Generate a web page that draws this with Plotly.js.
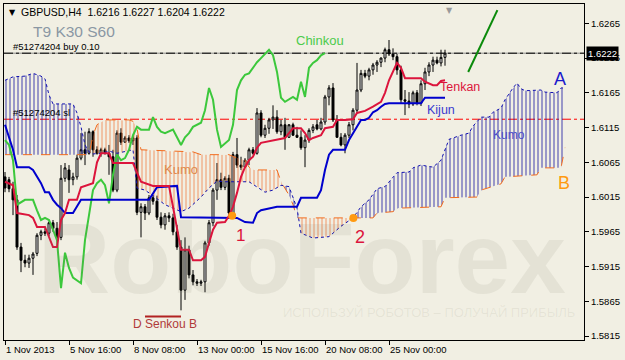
<!DOCTYPE html>
<html><head><meta charset="utf-8">
<script src="https://cdn.plot.ly/plotly-3.0.1.min.js"></script>
<style>html,body{margin:0;padding:0;background:#F1EFE3;} #chart{width:625px;height:360px;}</style>
</head><body><div id="chart"></div>
<script>
// ---- axis labels ----
const tickIdx = [0, 16, 32, 48, 64, 80, 96];
const tickLabels = ["1 Nov 2013", "5 Nov 16:00", "8 Nov 08:00", "13 Nov 00:00", "15 Nov 16:00", "20 Nov 08:00", "25 Nov 00:00"];
const priceTicks = [1.5815, 1.5865, 1.5915, 1.5965, 1.6015, 1.6065, 1.6115, 1.6165, 1.6215, 1.6265];

// ---- H4 candles (bar index 0 = 1 Nov 2013 00:00) ----
const barOpen = [1.6044,1.6040,1.6027,1.6011,1.5943,1.5924,1.5920,1.5927,1.5934,1.5960,
1.5965,1.5963,1.5978,1.5970,1.5957,1.6042,1.6054,1.6040,1.6044,1.6071,
1.6083,1.6078,1.6109,1.6083,1.6078,1.6083,1.6078,1.6073,1.6025,1.6107,
1.6094,1.6100,1.6096,1.6100,1.5993,1.6001,1.5992,1.6014,1.6009,1.5986,
1.5975,1.5988,1.5985,1.5965,1.5943,1.5881,1.5939,1.5903,1.5893,1.5891,
1.5893,1.5949,1.5978,1.6025,1.6040,1.6029,1.6042,1.5992,1.6076,1.6061,
1.6058,1.6068,1.6083,1.6078,1.6136,1.6104,1.6114,1.6126,1.6130,1.6109,
1.6119,1.6101,1.6119,1.6104,1.6101,1.6086,1.6097,1.6111,1.6119,1.6113,
1.6123,1.6159,1.6172,1.6126,1.6101,1.6090,1.6104,1.6119,1.6140,1.6169,
1.6193,1.6189,1.6198,1.6205,1.6209,1.6215,1.6227,1.6221,1.6217,1.6198,
1.6155,1.6153,1.6149,1.6165,1.6150,1.6178,1.6195,1.6205,1.6212,1.6208,1.6216];
const barHigh = [1.6051,1.6044,1.6037,1.6018,1.5949,1.5932,1.5932,1.5936,1.5963,1.5968,
1.5970,1.5980,1.5982,1.5979,1.6061,1.6064,1.6061,1.6050,1.6076,1.6107,
1.6109,1.6114,1.6111,1.6088,1.6086,1.6086,1.6090,1.6083,1.6111,1.6114,
1.6103,1.6104,1.6103,1.6104,1.6006,1.6005,1.6018,1.6018,1.6017,1.5993,
1.5992,1.5993,1.5991,1.5975,1.5953,1.5957,1.5945,1.5910,1.5897,1.5896,
1.5952,1.5982,1.6028,1.6064,1.6050,1.6045,1.6047,1.6080,1.6100,1.6073,
1.6071,1.6086,1.6087,1.6143,1.6140,1.6119,1.6129,1.6147,1.6140,1.6126,
1.6129,1.6120,1.6122,1.6116,1.6111,1.6104,1.6114,1.6120,1.6126,1.6129,
1.6162,1.6176,1.6179,1.6133,1.6107,1.6107,1.6123,1.6143,1.6208,1.6198,
1.6198,1.6201,1.6208,1.6212,1.6216,1.6230,1.6241,1.6229,1.6221,1.6204,
1.6169,1.6166,1.6168,1.6169,1.6183,1.6201,1.6209,1.6217,1.6217,1.6227,1.6227];
const barLow = [1.6022,1.6022,1.5989,1.5939,1.5907,1.5914,1.5913,1.5903,1.5930,1.5953,
1.5959,1.5959,1.5965,1.5953,1.5953,1.6037,1.6021,1.6032,1.6040,1.6068,
1.6061,1.6076,1.6073,1.6076,1.6073,1.6076,1.6047,1.6022,1.6022,1.6090,
1.6093,1.6093,1.6090,1.5989,1.5957,1.5982,1.5989,1.6004,1.5982,1.5970,
1.5968,1.5979,1.5960,1.5939,1.5852,1.5867,1.5898,1.5888,1.5887,1.5887,
1.5878,1.5945,1.5973,1.6011,1.6025,1.6025,1.5989,1.5988,1.6057,1.6054,
1.6057,1.6061,1.6076,1.6076,1.6101,1.6100,1.6106,1.6113,1.6106,1.6104,
1.6083,1.6100,1.6103,1.6100,1.6083,1.6058,1.6093,1.6107,1.6111,1.6111,
1.6119,1.6147,1.6123,1.6100,1.6088,1.6078,1.6100,1.6111,1.6136,1.6166,
1.6186,1.6183,1.6191,1.6195,1.6202,1.6209,1.6218,1.6212,1.6191,1.6150,
1.6133,1.6143,1.6146,1.6147,1.6146,1.6169,1.6189,1.6195,1.6206,1.6203,1.6204];
const barClose = [1.6028,1.6027,1.6011,1.5943,1.5924,1.5920,1.5927,1.5933,1.5960,1.5965,
1.5963,1.5978,1.5970,1.5957,1.6042,1.6057,1.6040,1.6044,1.6071,1.6083,
1.6078,1.6109,1.6083,1.6078,1.6083,1.6078,1.6073,1.6025,1.6107,1.6094,
1.6100,1.6096,1.6100,1.5993,1.6001,1.5992,1.6014,1.6009,1.5986,1.5975,
1.5988,1.5985,1.5965,1.5943,1.5881,1.5939,1.5903,1.5893,1.5891,1.5893,
1.5949,1.5978,1.6025,1.6040,1.6029,1.6042,1.5992,1.6076,1.6061,1.6058,
1.6068,1.6083,1.6078,1.6136,1.6104,1.6114,1.6126,1.6130,1.6109,1.6119,
1.6101,1.6119,1.6104,1.6101,1.6086,1.6097,1.6111,1.6116,1.6113,1.6123,
1.6159,1.6172,1.6126,1.6101,1.6090,1.6104,1.6119,1.6140,1.6169,1.6193,
1.6189,1.6198,1.6205,1.6209,1.6215,1.6227,1.6221,1.6217,1.6198,1.6155,
1.6153,1.6149,1.6165,1.6150,1.6178,1.6195,1.6205,1.6212,1.6208,1.6216,1.6222];

// ---- Ichimoku lines (bar index, price) ----
const tenkanIdx = [0,2,3,6,7,8,10,11,12,13,14,15,16,18,19,22,23,24,26,27,32,33,34,37,41,42,43,44,46,47,49,50,51,52,53,55,56,57,58,59,60,61,62,63,64,67,70,71,72,74,75,76,77,79,80,82,83,85,87,88,90,92,94,95,96,98,99,100,104,105,107,108,109,110];
const tenkanVal = [1.6037,1.6032,1.5992,1.5989,1.5985,1.5972,1.5972,1.5957,1.5943,1.5943,1.5982,1.5992,1.6011,1.6011,1.6029,1.6035,1.6065,1.6078,1.6078,1.6064,1.6064,1.6050,1.6037,1.6031,1.6031,1.6001,1.5968,1.5939,1.5939,1.5924,1.5924,1.5929,1.5949,1.5968,1.5978,1.5979,1.5988,1.6001,1.6021,1.6044,1.6058,1.6068,1.6073,1.6086,1.6093,1.6097,1.6100,1.6107,1.6114,1.6114,1.6107,1.6097,1.6100,1.6104,1.6114,1.6116,1.6126,1.6126,1.6127,1.6136,1.6139,1.6145,1.6152,1.6165,1.6183,1.6208,1.6201,1.6186,1.6186,1.6181,1.6176,1.6176,1.6182,1.6183];
const kijunIdx = [0,1,2,3,6,7,8,9,10,11,12,13,14,15,17,18,19,36,37,38,43,44,58,60,62,63,64,67,68,73,74,78,79,80,81,82,85,86,87,88,89,90,91,92,93,94,95,96,104,105,110];
const kijunVal = [1.6119,1.6101,1.6083,1.6058,1.6058,1.6054,1.6044,1.6035,1.6022,1.6022,1.6011,1.6004,1.5999,1.5992,1.5992,1.6001,1.6011,1.6011,1.6021,1.6029,1.6031,1.5986,1.5985,1.5979,1.5978,1.5992,1.5996,1.5999,1.6001,1.6001,1.6014,1.6014,1.6025,1.6054,1.6076,1.6083,1.6083,1.6097,1.6107,1.6116,1.6126,1.6126,1.6129,1.6137,1.6140,1.6145,1.6149,1.6150,1.6150,1.6158,1.6158];
const spanAIdx = [0,2,5,7,9,10,11,12,17,18,19,20,21,22,24,26,28,30,32,33,35,37,40,44,46,49,51,53,55,61,63,65,67,69,71,72,73,74,77,81,84,87,89,91,93,95,98,101,102,104,107,109,110,111,114,116,117,119,121,122,124,125,127,128,129,130,134,135,138,139,140];
const spanAVal = [1.6183,1.6188,1.6189,1.6193,1.6189,1.6185,1.6162,1.6149,1.6149,1.6136,1.6116,1.6090,1.6080,1.6077,1.6078,1.6081,1.6078,1.6080,1.6083,1.6028,1.6025,1.6017,1.6004,1.5994,1.5999,1.6015,1.6028,1.6038,1.6037,1.6037,1.6030,1.6022,1.6025,1.6032,1.6030,1.6015,1.5999,1.5963,1.5956,1.5958,1.5973,1.5985,1.6001,1.6011,1.6027,1.6030,1.6050,1.6051,1.6057,1.6061,1.6058,1.6068,1.6083,1.6098,1.6104,1.6107,1.6117,1.6130,1.6130,1.6137,1.6143,1.6155,1.6172,1.6179,1.6171,1.6168,1.6169,1.6166,1.6165,1.6172,1.6172];
const spanBIdx = [0,21,22,23,24,25,31,32,33,34,47,49,56,58,60,61,62,68,69,71,72,73,92,93,97,98,109,110,118,119,124,125,133,134,139,140];
const spanBVal = [1.6076,1.6076,1.6104,1.6119,1.6123,1.6126,1.6126,1.6124,1.6114,1.6083,1.6080,1.6076,1.6076,1.6071,1.6068,1.6058,1.6054,1.6054,1.6037,1.6018,1.6004,1.5985,1.5985,1.5992,1.5994,1.5999,1.6001,1.6014,1.6015,1.6025,1.6034,1.6044,1.6047,1.6057,1.6057,1.6086];
const chinkouIdx = [0,1,2,3,5,7,8,9,10,11,12,13,14,15,16,17,19,20,21,22,23,24,25,26,27,28,29,30,31,32,33,34,36,37,38,39,40,42,43,44,45,46,47,49,50,51,52,53,54,56,57,58,59,60,61,63,64,66,67,68,69,70,72,73,74,75,76,77,78,79,80];
const chinkouVal = [1.6097,1.6090,1.6068,1.6004,1.6011,1.6011,1.5996,1.5982,1.5985,1.5982,1.5968,1.5953,1.5884,1.5935,1.5913,1.5899,1.5891,1.5953,1.5989,1.6025,1.6035,1.6040,1.6032,1.6006,1.6047,1.6076,1.6068,1.6071,1.6083,1.6104,1.6116,1.6112,1.6112,1.6130,1.6116,1.6109,1.6107,1.6112,1.6101,1.6090,1.6101,1.6107,1.6116,1.6122,1.6140,1.6172,1.6155,1.6112,1.6087,1.6097,1.6119,1.6169,1.6183,1.6191,1.6193,1.6209,1.6215,1.6227,1.6219,1.6195,1.6158,1.6152,1.6159,1.6155,1.6181,1.6159,1.6201,1.6208,1.6212,1.6219,1.6222];

// ---- drawings ----
const orderPrice = 1.6222;
const stopPrice = 1.6127;
const trendIdx = [115.8, 123.1];
const trendVal = [1.6195, 1.6284];
const crossIdx = [56.8, 87.1];
const crossVal = [1.5988, 1.5985];
const dSenkouIdx = [35, 44];
const dSenkouVal = [1.5843, 1.5843];

// ---- cloud fill geometry ----
function lineAt(xs, ys, x) {
  if (x <= xs[0]) return ys[0];
  for (let k = 1; k < xs.length; k++) {
    if (x <= xs[k]) { const t = (x - xs[k-1]) / (xs[k] - xs[k-1]); return ys[k-1] + t * (ys[k] - ys[k-1]); }
  }
  return ys[ys.length - 1];
}
const gx = [];
for (let g = 0; g <= 140.0001; g += 0.25) gx.push(g);
const gA = gx.map(x => lineAt(spanAIdx, spanAVal, x));
const gB = gx.map(x => lineAt(spanBIdx, spanBVal, x));
const gMax = gA.map((a, k) => Math.max(a, gB[k]));
const gMin = gA.map((a, k) => Math.min(a, gB[k]));

const barIdx = barClose.map((_, i) => i);
const hidden = {width: 0, color: 'rgba(0,0,0,0)'};

const traces = [
  {x: gx, y: gB, mode: 'lines', line: hidden, hoverinfo: 'skip'},
  {x: gx, y: gMax, mode: 'lines', line: hidden, fill: 'tonexty', fillcolor: 'rgba(0,0,0,0)',
   fillpattern: {shape: '|', fgcolor: 'rgba(20,20,160,0.8)', bgcolor: 'rgba(0,0,0,0)', size: 4, solidity: 0.25}, hoverinfo: 'skip'},
  {x: gx, y: gB, mode: 'lines', line: hidden, hoverinfo: 'skip'},
  {x: gx, y: gMin, mode: 'lines', line: hidden, fill: 'tonexty', fillcolor: 'rgba(0,0,0,0)',
   fillpattern: {shape: '|', fgcolor: 'rgba(240,120,60,0.75)', bgcolor: 'rgba(0,0,0,0)', size: 4, solidity: 0.25}, hoverinfo: 'skip'},
  {type: 'candlestick', x: barIdx, open: barOpen, high: barHigh, low: barLow, close: barClose,
   increasing: {line: {color: '#000', width: 1}, fillcolor: '#FFFFFF'},
   decreasing: {line: {color: '#000', width: 1}, fillcolor: '#000000'},
   whiskerwidth: 0, hoverinfo: 'skip'},
  {x: spanAIdx, y: spanAVal, mode: 'lines', line: {color: '#1010B0', width: 1, dash: 'dot'}},
  {x: spanBIdx, y: spanBVal, mode: 'lines', line: {color: '#F26B1D', width: 1, dash: 'dash'}},
  {x: chinkouIdx, y: chinkouVal, mode: 'lines', line: {color: '#3CC83C', width: 2}},
  {x: kijunIdx, y: kijunVal, mode: 'lines', line: {color: '#0000CD', width: 2}},
  {x: tenkanIdx, y: tenkanVal, mode: 'lines', line: {color: '#DC143C', width: 2}},
  {x: trendIdx, y: trendVal, mode: 'lines', line: {color: '#0A8A0A', width: 2}},
  {x: dSenkouIdx, y: dSenkouVal, mode: 'lines', line: {color: '#B22222', width: 2}},
  {x: crossIdx, y: crossVal, mode: 'markers', marker: {color: '#FF9A10', size: 8}}
];

const F = 'Liberation Sans, Arial, sans-serif';
const wm = 'rgba(120,120,95,0.10)';
const annotations = [
  {xref: 'paper', yref: 'paper', x: 0.514, y: 0.244, text: '<b>RoboForex</b>', showarrow: false, xanchor: 'center', yanchor: 'middle', font: {family: F, size: 100, color: wm}},
  {xref: 'paper', yref: 'paper', x: 0.733, y: 0.083, text: 'ИСПОЛЬЗУЙ РОБОТОВ – ПОЛУЧАЙ ПРИБЫЛЬ', showarrow: false, xanchor: 'center', yanchor: 'middle', font: {family: F, size: 13, color: wm}},
  {xref: 'paper', yref: 'paper', x: 0.0138, y: 0.976, text: '▼', showarrow: false, xanchor: 'center', yanchor: 'middle', font: {family: 'DejaVu Sans', size: 8, color: '#000'}},
  {xref: 'paper', yref: 'paper', x: 0.0259, y: 0.976, text: 'GBPUSD,H4  1.6216 1.6227 1.6204 1.6222', showarrow: false, xanchor: 'left', yanchor: 'middle', font: {family: F, size: 10.5, color: '#000'}},
  {xref: 'paper', yref: 'paper', x: 0.0466, y: 0.9196, text: 'T9 K30 S60', showarrow: false, xanchor: 'left', yanchor: 'middle', font: {family: F, size: 15.5, color: '#8A97A3'}},
  {xref: 'paper', yref: 'paper', x: 0.0121, y: 0.875, text: '#51274204 buy 0.10', showarrow: false, xanchor: 'left', yanchor: 'middle', font: {family: F, size: 9.5, color: '#000'}},
  {xref: 'paper', yref: 'paper', x: 0.0121, y: 0.6756, text: '#51274204 sl', showarrow: false, xanchor: 'left', yanchor: 'middle', font: {family: F, size: 9.5, color: '#000'}},
  {x: 78.75, y: 1.6240, text: 'Chinkou', showarrow: false, font: {family: F, size: 13, color: '#4CCB4C'}},
  {x: 113.75, y: 1.6173, text: 'Tenkan', showarrow: false, font: {family: F, size: 12.5, color: '#DC143C'}},
  {x: 109, y: 1.6140, text: 'Kijun', showarrow: false, font: {family: F, size: 12.5, color: '#3A3AD0'}},
  {x: 138.75, y: 1.6185, text: 'A', showarrow: false, font: {family: F, size: 18, color: '#1A1ACC'}},
  {x: 126, y: 1.6104, text: 'Kumo', showarrow: false, font: {family: F, size: 12, color: '#4B4BC8'}},
  {x: 139.75, y: 1.6035, text: 'B', showarrow: false, font: {family: F, size: 18, color: '#FF9A10'}},
  {x: 44, y: 1.6054, text: 'Kumo', showarrow: false, font: {family: F, size: 13, color: '#E0884A'}},
  {x: 58.75, y: 1.5959, text: '1', showarrow: false, font: {family: F, size: 17, color: '#DC143C'}},
  {x: 88.75, y: 1.5958, text: '2', showarrow: false, font: {family: F, size: 18, color: '#DC143C'}},
  {x: 39.9, y: 1.5832, text: 'D Senkou B', showarrow: false, font: {family: F, size: 12, color: '#B03A3A'}},
  {x: 111, yref: 'paper', y: 1, text: '▼', showarrow: false, xanchor: 'center', yanchor: 'top', font: {family: 'DejaVu Sans', size: 8, color: '#9A9A9A'}},
  {xref: 'paper', x: 1, y: orderPrice, xshift: 2, text: orderPrice.toFixed(4), showarrow: false, xanchor: 'left', yanchor: 'middle', bgcolor: '#000', borderpad: 1, font: {family: F, size: 9.5, color: '#FFF'}}
];
tickIdx.forEach((t, k) => annotations.push({x: t, yref: 'paper', y: -0.028, text: tickLabels[k], showarrow: false, xanchor: 'left', yanchor: 'middle', xshift: -1, font: {family: F, size: 9.5, color: '#000'}}));

const layout = {
  width: 625, height: 360,
  margin: {l: 4, r: 41, t: 4, b: 20},
  paper_bgcolor: '#F1EFE3', plot_bgcolor: '#F1EFE3',
  showlegend: false,
  xaxis: {range: [-0.25, 144.75], tickvals: tickIdx, showticklabels: false, ticks: 'outside', ticklen: 4, tickcolor: '#000',
          showgrid: false, zeroline: false, showline: true, linecolor: '#000', linewidth: 1, mirror: true, rangeslider: {visible: false}},
  yaxis: {range: [1.58093, 1.62928], side: 'right', tickvals: priceTicks, ticktext: priceTicks.map(v => v.toFixed(4)),
          ticks: 'outside', ticklen: 4, tickcolor: '#000', showgrid: false, zeroline: false, showline: true, linecolor: '#000', mirror: true,
          tickfont: {family: F, size: 9.5, color: '#000'}},
  shapes: [
    {type: 'line', xref: 'paper', x0: 0, x1: 1, y0: orderPrice, y1: orderPrice, layer: 'below', line: {color: '#8C8C8C', width: 1}},
    {type: 'line', xref: 'paper', x0: 0, x1: 1, y0: orderPrice, y1: orderPrice, layer: 'below', line: {color: '#000', width: 1, dash: 'dashdot'}},
    {type: 'line', xref: 'paper', x0: 0, x1: 1, y0: stopPrice, y1: stopPrice, layer: 'below', line: {color: '#FF0000', width: 1, dash: 'dashdot'}}
  ],
  annotations: annotations
};
Plotly.newPlot('chart', traces, layout, {staticPlot: true, displayModeBar: false});
</script></body></html>
